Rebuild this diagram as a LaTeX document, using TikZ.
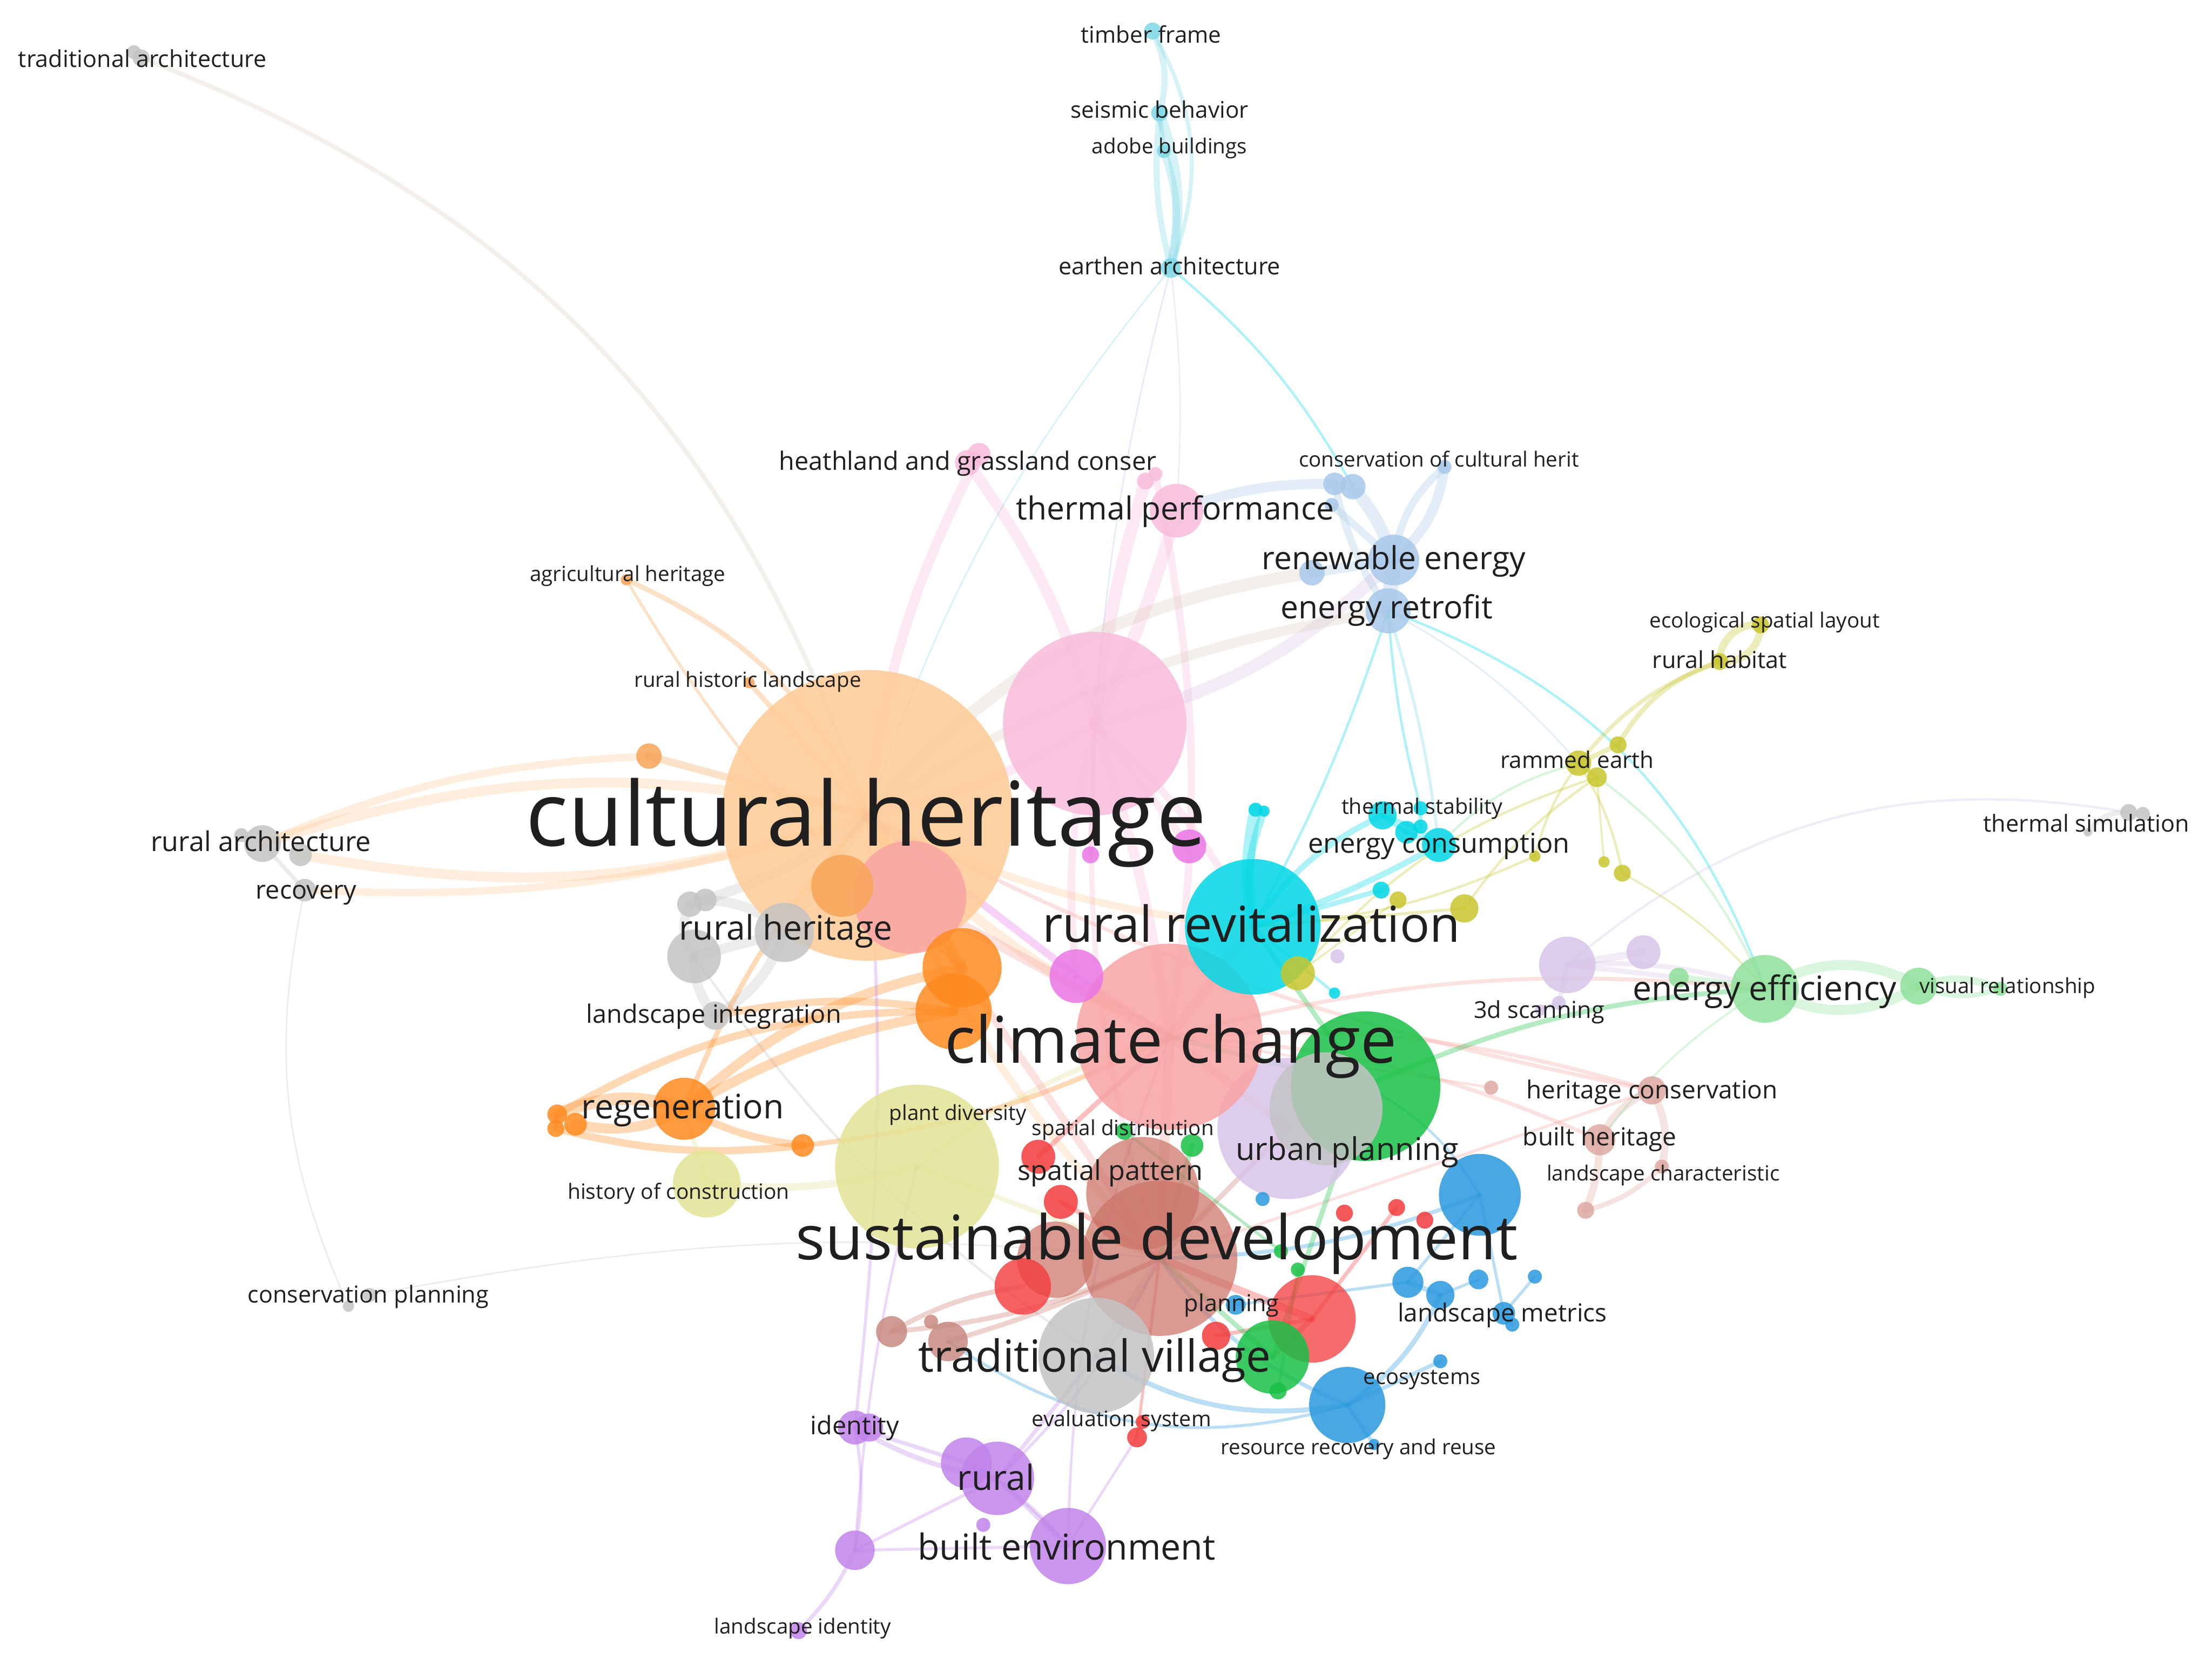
\documentclass[tikz,border=0pt]{standalone}
\usepackage{fontspec}
\setmainfont{Open Sans}
\usepackage{xcolor}
\definecolor{cPeach}{HTML}{FFCB96}
\definecolor{cOrangeL}{HTML}{F8A458}
\definecolor{cOrange}{HTML}{FF8A1F}
\definecolor{cGray}{HTML}{C4C4C4}
\definecolor{cLCyan}{HTML}{7FD8E6}
\definecolor{cPink}{HTML}{F9BCDB}
\definecolor{cLBlue}{HTML}{A9C8EA}
\definecolor{cYellow}{HTML}{C9C62E}
\definecolor{cCyan}{HTML}{00D7E6}
\definecolor{cGreen}{HTML}{19C147}
\definecolor{cLGreen}{HTML}{8FE09A}
\definecolor{cLav}{HTML}{D8C4E8}
\definecolor{cSalmon}{HTML}{F7A3A3}
\definecolor{cRose}{HTML}{DDA9A2}
\definecolor{cLYellow}{HTML}{E3E396}
\definecolor{cMagenta}{HTML}{EA76E6}
\definecolor{cBrown}{HTML}{CC7468}
\definecolor{cBrownL}{HTML}{C88A80}
\definecolor{cRed}{HTML}{F43B3B}
\definecolor{cBlue}{HTML}{2A99DF}
\definecolor{cPurple}{HTML}{C183EA}
\definecolor{cEdge}{HTML}{DCCFC2}
\pgfdeclarelayer{paper}
\pgfdeclarelayer{edges}
\pgfdeclarelayer{front}
\pgfsetlayers{paper,edges,main,front}

\begin{document}
\begin{tikzpicture}[
    x=0.01cm, y=-0.01cm,
    bub/.style={circle, inner sep=0pt, minimum size=#1*0.2mm, fill opacity=0.85},
    lbl/.style={font=\fontsize{#1}{#1}\selectfont, anchor=base, yshift=-#1*0.34pt, inner sep=0pt, text=black!88},
    lnk/.style={draw=#1, draw opacity=0.32, line width=0.5pt, line cap=round}
]

\begin{pgfonlayer}{paper}
\fill[white] (0,0) rectangle (1568,1176.5);
\end{pgfonlayer}
\useasboundingbox (0,0) rectangle (1568,1176.5);

% large bubbles
\node[bub=103, fill=cPeach] (culher) at (615,578) {};
\node[bub=65, fill=cPink] (pnk0) at (776,513) {};
\node[bub=50, fill=cLav] (urbplan) at (913,800) {};
\node[bub=53, fill=cGreen] (grn0) at (968,770) {};
\node[bub=40, fill=cGray] (gry7) at (940,786) {};
\node[bub=66, fill=cSalmon] (climch) at (829,735) {};
\node[bub=48, fill=cCyan] (rurrev) at (888,657) {};
\node[bub=58, fill=cLYellow] (plantdiv) at (650,827) {};
\node[bub=55, fill=cBrown, fill opacity=0.72] (susdev) at (822,892) {};
\node[bub=40, fill=cBrown, fill opacity=0.72] (brn1) at (810,846) {};
\node[bub=40, fill=cSalmon] (slm1) at (645,636) {};
\node[bub=41, fill=cGray] (tradvil) at (777,961) {};

% medium bubbles
\node[bub=27, fill=cBrown, fill opacity=0.72] (brn2) at (748,893) {};
\node[bub=31, fill=cRed, fill opacity=0.75] (red1) at (930,935) {};
\node[bub=29, fill=cBlue] (blu0) at (1049,847) {};
\node[bub=27, fill=cBlue] (blu1) at (955,996) {};
\node[bub=26, fill=cGreen] (grn1) at (902,962) {};
\node[bub=28, fill=cOrange] (org1) at (682,686) {};
\node[bub=27, fill=cOrange] (org2) at (676,717) {};
\node[bub=18, fill=cPurple] (pur2) at (685,1037) {};
\node[bub=26, fill=cPurple] (rural) at (707,1048) {};
\node[bub=27, fill=cPurple] (builtenv) at (757,1096) {};
\node[bub=24, fill=cLGreen] (eneff) at (1251,701) {};
\node[bub=24, fill=cLYellow] (histcon) at (501,839) {};
\node[bub=22, fill=cOrange] (regen) at (485,786) {};
\node[bub=22, fill=cOrangeL] (pch2) at (597,628) {};
\node[bub=21, fill=cGray] (rurher) at (556,661) {};
\node[bub=19, fill=cGray] (gry2) at (492,678) {};
\node[bub=20, fill=cRed, fill opacity=0.8] (red2) at (725,912) {};
\node[bub=20, fill=cLav] (lav0) at (1111,684) {};
\node[bub=19, fill=cMagenta] (mag1) at (763,692) {};
\node[bub=19, fill=cPink] (thperf) at (834,362) {};
\node[bub=18, fill=cLBlue] (renew) at (988,397) {};
\node[bub=16, fill=cLBlue] (enretro) at (984,433) {};

% small bubbles
\node[bub=6, fill=cLCyan] (timber) at (817,22) {};
\node[bub=6, fill=cLCyan] (seismic) at (822,80) {};
\node[bub=5, fill=cLCyan] (adobe) at (825,107) {};
\node[bub=7, fill=cLCyan] (earthen) at (830,190) {};
\node[bub=9, fill=cPink] (heath) at (686,328) {};
\node[bub=8, fill=cPink] (pnk3) at (694,322) {};
\node[bub=6, fill=cPink] (pnk1) at (812,341) {};
\node[bub=5, fill=cPink] (pnk2) at (819,336) {};
\node[bub=8, fill=cLBlue] (lbl1) at (946,343) {};
\node[bub=9, fill=cLBlue] (lbl2) at (959,345) {};
\node[bub=5, fill=cLBlue] (conscul) at (1024,331) {};
\node[bub=5, fill=cLBlue] (lbl3) at (944,358) {};
\node[bub=9, fill=cLBlue] (lbl4) at (930,406) {};
\node[bub=4, fill=cOrangeL] (agrher) at (444,411) {};
\node[bub=4, fill=cOrangeL] (rurhis) at (531,484) {};
\node[bub=9, fill=cOrangeL] (pch1) at (460,536) {};
\node[bub=6, fill=cYellow] (ecospa) at (1248,443) {};
\node[bub=6, fill=cYellow] (rurhab) at (1219,469) {};
\node[bub=6, fill=cYellow] (ylw1) at (1147,528) {};
\node[bub=9, fill=cYellow] (rammed) at (1119,541) {};
\node[bub=7, fill=cYellow] (ylw2) at (1132,551) {};
\node[bub=4, fill=cYellow] (ylw3) at (1088,607) {};
\node[bub=4, fill=cYellow] (ylw4) at (1137,611) {};
\node[bub=6, fill=cYellow] (ylw5) at (1150,619) {};
\node[bub=10, fill=cYellow] (ylw6) at (1038,644) {};
\node[bub=6, fill=cYellow] (ylw7) at (991,638) {};
\node[bub=12, fill=cYellow] (ylw8) at (920,690) {};
\node[bub=10, fill=cCyan] (cyn0) at (980,578) {};
\node[bub=5, fill=cCyan] (thstab) at (1007,573) {};
\node[bub=8, fill=cCyan] (cyn2) at (997,590) {};
\node[bub=5, fill=cCyan] (cyn3) at (1007,586) {};
\node[bub=12, fill=cCyan] (encons) at (1020,599) {};
\node[bub=5, fill=cCyan] (cyn4) at (890,574) {};
\node[bub=4, fill=cCyan] (cyn5) at (896,575) {};
\node[bub=6, fill=cCyan] (cyn6) at (979,631) {};
\node[bub=4, fill=cCyan] (cyn7) at (946,704) {};
\node[bub=6, fill=cGray] (tradarch) at (100,41) {};
\node[bub=5, fill=cGray] (gry0) at (95,37) {};
\node[bub=13, fill=cGray] (rurarch) at (186,598) {};
\node[bub=5, fill=cGray] (gry9) at (171,592) {};
\node[bub=8, fill=cGray] (recov) at (216,631) {};
\node[bub=8, fill=cGray] (gry1) at (213,606) {};
\node[bub=9, fill=cGray] (gry3) at (489,641) {};
\node[bub=8, fill=cGray] (gry4) at (500,638) {};
\node[bub=10, fill=cGray] (landint) at (507,720) {};
\node[bub=5, fill=cGray] (consplan) at (262,918) {};
\node[bub=4, fill=cGray] (gry5) at (247,926) {};
\node[bub=6, fill=cGray] (gry6) at (1509,576) {};
\node[bub=5, fill=cGray] (gry8) at (1519,577) {};
\node[bub=3, fill=cGray] (thsim) at (1480,590) {};
\node[bub=7, fill=cLGreen] (lgr1) at (1190,693) {};
\node[bub=13, fill=cLGreen] (lgr2) at (1360,699) {};
\node[bub=5, fill=cLGreen] (visrel) at (1418,701) {};
\node[bub=12, fill=cLav] (lav1) at (1165,675) {};
\node[bub=5, fill=cLav] (lav2) at (1105,711) {};
\node[bub=4, fill=cLav] (scan3d) at (1092,716) {};
\node[bub=5, fill=cLav] (lav3) at (948,678) {};
\node[bub=10, fill=cRose] (hercons) at (1171,773) {};
\node[bub=11, fill=cRose] (builther) at (1134,808) {};
\node[bub=5, fill=cRose] (landchar) at (1178,827) {};
\node[bub=6, fill=cRose] (rse1) at (1124,858) {};
\node[bub=5, fill=cRose] (rse2) at (1057,771) {};
\node[bub=7, fill=cOrange] (org3) at (395,790) {};
\node[bub=8, fill=cOrange] (org4) at (408,797) {};
\node[bub=6, fill=cOrange] (org5) at (394,800) {};
\node[bub=8, fill=cOrange] (org6) at (569,812) {};
\node[bub=12, fill=cMagenta] (mag2) at (843,600) {};
\node[bub=6, fill=cMagenta] (mag3) at (773,606) {};
\node[bub=8, fill=cGreen] (grn2) at (845,812) {};
\node[bub=6, fill=cGreen] (grn3) at (797,802) {};
\node[bub=5, fill=cGreen] (grn4) at (908,887) {};
\node[bub=5, fill=cGreen] (grn5) at (920,900) {};
\node[bub=6, fill=cGreen] (grn6) at (906,986) {};
\node[bub=12, fill=cRed] (red4) at (736,820) {};
\node[bub=12, fill=cRed] (spatpat) at (752,852) {};
\node[bub=10, fill=cRed] (red3) at (862,947) {};
\node[bub=7, fill=cRed] (evalsys) at (806,1019) {};
\node[bub=5, fill=cRed] (red5) at (810,1008) {};
\node[bub=6, fill=cRed] (red6) at (990,856) {};
\node[bub=6, fill=cRed] (red7) at (1010,865) {};
\node[bub=6, fill=cRed] (red8) at (953,860) {};
\node[bub=11, fill=cBlue] (blu2) at (998,909) {};
\node[bub=10, fill=cBlue] (blu3) at (1021,918) {};
\node[bub=7, fill=cBlue] (blu4) at (1048,907) {};
\node[bub=8, fill=cBlue] (landmet) at (1066,931) {};
\node[bub=5, fill=cBlue] (blu5) at (1088,905) {};
\node[bub=5, fill=cBlue] (blu6) at (1072,939) {};
\node[bub=5, fill=cBlue] (ecosys) at (1021,965) {};
\node[bub=4, fill=cBlue] (resrec) at (974,1024) {};
\node[bub=7, fill=cBlue] (planning) at (876,925) {};
\node[bub=5, fill=cBlue] (blu7) at (895,850) {};
\node[bub=11, fill=cBrownL] (brw1) at (632,944) {};
\node[bub=14, fill=cBrownL] (brw2) at (672,951) {};
\node[bub=5, fill=cBrownL] (brw3) at (660,937) {};
\node[bub=12, fill=cPurple] (identity) at (606,1012) {};
\node[bub=10, fill=cPurple] (pur1) at (616,1012) {};
\node[bub=5, fill=cPurple] (pur3) at (697,1081) {};
\node[bub=14, fill=cPurple] (pur5) at (606,1099) {};
\node[bub=6, fill=cPurple] (landid) at (566,1156) {};

\begin{pgfonlayer}{edges}
% top
\draw[lnk=cLCyan, line width=1.2pt] (timber.center) to[bend left=20] (seismic.center);
\draw[lnk=cLCyan, line width=0.8pt] (timber.center) to[bend left=25] (earthen.center);
\draw[lnk=cLCyan, line width=2pt] (seismic.center) to[bend left=15] (earthen.center);
\draw[lnk=cLCyan, line width=1.2pt] (seismic.center) to[bend right=10] (earthen.center);
\draw[lnk=cLCyan, line width=1.5pt] (adobe.center) to[bend left=15] (earthen.center);
\draw[lnk=cLCyan, line width=1pt] (seismic.center) -- (adobe.center);
\draw[lnk=cCyan] (earthen.center) to[bend left=10] (lbl2.center);
\draw[lnk=cLCyan, line width=0.3pt] (earthen.center) to[bend right=10] (culher.center);
\draw[lnk=cLav, line width=0.3pt] (earthen.center) to[bend left=5] (thperf.center);
\draw[lnk=cLBlue, line width=0.3pt] (earthen.center) to[bend right=5] (pnk0.center);
% pink and light blue
\draw[lnk=cPink, line width=2.2pt] (heath.center) to[bend left=10] (pnk0.center);
\draw[lnk=cPink, line width=2pt] (pnk3.center) to[bend right=10] (culher.center);
\draw[lnk=cPink, line width=2.5pt] (pnk1.center) to[bend right=5] (pnk0.center);
\draw[lnk=cPink, line width=2.5pt] (thperf.center) to[bend left=5] (pnk0.center);
\draw[lnk=cPink, line width=1.5pt] (pnk2.center) to[bend left=10] (climch.center);
\draw[lnk=cLBlue, line width=2pt] (thperf.center) to[bend left=10] (lbl1.center);
\draw[lnk=cLav, line width=2.5pt] (pnk0.center) to[bend right=15] (renew.center);
\draw[lnk=cEdge, line width=2.5pt] (culher.center) to[bend left=20] (lbl4.center);
\draw[lnk=cEdge, line width=2pt] (culher.center) to[bend left=12] (enretro.center);
\draw[lnk=cPink, line width=1.5pt] (pnk0.center) to[bend left=10] (rurrev.center);
\draw[lnk=cPink, line width=2pt] (pnk0.center) to[bend left=5] (climch.center);
\draw[lnk=cPink, line width=1.5pt] (pnk0.center) to[bend right=10] (mag1.center);
\draw[lnk=cPink, line width=1pt] (pnk0.center) to[bend right=10] (susdev.center);
\draw[lnk=cPink, line width=2pt] (pnk0.center) to[bend left=10] (culher.center);
\draw[lnk=cLBlue, line width=2pt] (conscul.center) to[bend left=20] (renew.center);
\draw[lnk=cLBlue, line width=1.5pt] (conscul.center) to[bend right=20] (renew.center);
\draw[lnk=cLBlue, line width=2.5pt] (lbl2.center) to[bend left=10] (renew.center);
\draw[lnk=cLBlue, line width=1.5pt] (lbl1.center) to[bend right=10] (enretro.center);
\draw[lnk=cLBlue, line width=1.5pt] (lbl3.center) -- (renew.center);
\draw[lnk=cLBlue, line width=3pt] (renew.center) -- (enretro.center);
\draw[lnk=cLBlue, line width=2pt] (lbl4.center) -- (renew.center);
\draw[lnk=cCyan] (enretro.center) to[bend left=5] (rurrev.center);
\draw[lnk=cLCyan, line width=0.6pt] (enretro.center) to[bend left=5] (encons.center);
\draw[lnk=cCyan] (enretro.center) to[bend left=25] (eneff.center);
\draw[lnk=cLBlue, line width=0.3pt] (enretro.center) to[bend left=10] (rammed.center);
\draw[lnk=cCyan] (enretro.center) to[bend right=5] (thstab.center);
% yellow
\draw[lnk=cYellow, line width=1.5pt] (ecospa.center) to[bend right=50] (rurhab.center);
\draw[lnk=cYellow, line width=1.5pt] (ecospa.center) to[bend left=50] (rurhab.center);
\draw[lnk=cYellow, line width=1pt] (rurhab.center) to[bend right=20] (ylw1.center);
\draw[lnk=cYellow, line width=0.8pt] (rurhab.center) to[bend right=15] (rammed.center);
\draw[lnk=cYellow, line width=1pt] (ylw1.center) -- (rammed.center);
\draw[lnk=cYellow, line width=1pt] (rammed.center) -- (ylw2.center);
\draw[lnk=cYellow] (rammed.center) to[bend right=10] (ylw3.center);
\draw[lnk=cYellow] (rammed.center) to[bend left=10] (ylw5.center);
\draw[lnk=cYellow, line width=0.4pt] (ylw2.center) -- (ylw4.center);
\draw[lnk=cLGreen] (rammed.center) to[bend right=15] (encons.center);
\draw[lnk=cLGreen] (rammed.center) to[bend left=15] (eneff.center);
\draw[lnk=cYellow] (ylw2.center) to[bend right=10] (ylw6.center);
\draw[lnk=cYellow] (ylw2.center) to[bend right=15] (ylw8.center);
\draw[lnk=cYellow] (ylw3.center) to[bend left=10] (rurrev.center);
\draw[lnk=cYellow, line width=0.6pt] (ylw6.center) -- (rurrev.center);
\draw[lnk=cYellow, line width=0.4pt] (ylw5.center) to[bend left=10] (eneff.center);
\draw[lnk=cYellow, line width=0.4pt] (ylw7.center) -- (ylw8.center);
% cyan
\draw[lnk=cCyan, line width=2.5pt] (rurrev.center) to[bend left=10] (cyn4.center);
\draw[lnk=cCyan, line width=1.5pt] (rurrev.center) to[bend left=15] (cyn5.center);
\draw[lnk=cCyan, line width=1.2pt] (rurrev.center) to[bend left=15] (cyn0.center);
\draw[lnk=cCyan, line width=1.2pt] (rurrev.center) to[bend right=5] (encons.center);
\draw[lnk=cCyan, line width=1pt] (rurrev.center) -- (cyn6.center);
\draw[lnk=cCyan, line width=1pt] (cyn0.center) -- (cyn2.center);
\draw[lnk=cCyan, line width=1pt] (cyn2.center) -- (encons.center);
\draw[lnk=cCyan, line width=0.8pt] (thstab.center) -- (cyn3.center);
\draw[lnk=cCyan, line width=0.8pt] (cyn0.center) to[bend left=10] (encons.center);
\draw[lnk=cCyan, line width=0.6pt] (rurrev.center) -- (cyn7.center);
% left
\draw[lnk=cEdge, line width=0.9pt] (tradarch.center) to[bend left=25] (culher.center);
\draw[lnk=cPeach, line width=2pt] (rurarch.center) to[bend left=15] (culher.center);
\draw[lnk=cPeach, line width=2pt] (gry1.center) to[bend right=14] (culher.center);
\draw[lnk=cPeach, line width=1.5pt] (rurarch.center) to[bend left=10] (pch1.center);
\draw[lnk=cPeach, line width=1.5pt] (recov.center) to[bend right=10] (culher.center);
\draw[lnk=cGray, line width=0.8pt] (rurarch.center) -- (recov.center);
\draw[lnk=cGray, line width=0.3pt] (consplan.center) to[bend left=8] (susdev.center);
\draw[lnk=cGray, line width=0.3pt] (gry5.center) to[bend left=18] (recov.center);
\draw[lnk=cOrangeL, line width=1pt] (agrher.center) to[bend left=20] (culher.center);
\draw[lnk=cOrangeL, line width=0.6pt] (agrher.center) to[bend right=10] (org1.center);
\draw[lnk=cOrangeL, line width=1pt] (rurhis.center) -- (culher.center);
\draw[lnk=cOrangeL, line width=1.5pt] (pch1.center) -- (culher.center);
\draw[lnk=cPeach, line width=1.5pt] (culher.center) to[bend right=10] (rurrev.center);
\draw[lnk=cPeach, line width=2pt] (culher.center) to[bend right=10] (climch.center);
\draw[lnk=cPeach, line width=1.5pt] (culher.center) to[bend right=10] (susdev.center);
\draw[lnk=cSalmon, line width=0.8pt] (culher.center) to[bend right=8] (hercons.center);
\draw[lnk=cGray, line width=2pt] (gry3.center) to[bend right=30] (gry2.center);
\draw[lnk=cGray, line width=2pt] (gry4.center) to[bend left=20] (rurher.center);
\draw[lnk=cGray, line width=2pt] (gry2.center) -- (rurher.center);
\draw[lnk=cGray, line width=2pt] (gry2.center) to[bend right=20] (landint.center);
\draw[lnk=cGray, line width=2pt] (rurher.center) to[bend left=20] (landint.center);
\draw[lnk=cGray, line width=2pt] (gry3.center) to[bend right=10] (culher.center);
\draw[lnk=cGray, line width=2pt] (rurher.center) -- (culher.center);
\draw[lnk=cGray, line width=0.5pt] (gry2.center) to[bend right=10] (tradvil.center);
% orange
\draw[lnk=cOrange, line width=2.5pt] (regen.center) to[bend right=20] (org3.center);
\draw[lnk=cOrange, line width=2pt] (regen.center) to[bend left=20] (org4.center);
\draw[lnk=cOrange, line width=1pt] (org3.center) -- (org5.center);
\draw[lnk=cOrange, line width=1.5pt] (org5.center) to[bend right=10] (org6.center);
\draw[lnk=cOrange, line width=2pt] (regen.center) to[bend left=15] (org1.center);
\draw[lnk=cOrange, line width=2pt] (regen.center) to[bend left=10] (org2.center);
\draw[lnk=cOrange, line width=1.5pt] (regen.center) to[bend right=10] (org6.center);
\draw[lnk=cOrange, line width=1pt] (regen.center) to[bend left=10] (culher.center);
\draw[lnk=cOrange, line width=1.5pt] (org3.center) to[bend left=15] (org2.center);
\draw[lnk=cOrange, line width=1pt] (org6.center) to[bend right=10] (climch.center);
\draw[lnk=cOrange, line width=2pt] (org1.center) -- (culher.center);
\draw[lnk=cOrange, line width=2pt] (org1.center) -- (org2.center);
\draw[lnk=cOrange, line width=1.5pt] (landint.center) to[bend left=10] (org2.center);
\draw[lnk=cLYellow, line width=1.5pt] (histcon.center) to[bend right=10] (plantdiv.center);
\draw[lnk=cLYellow, line width=1pt] (histcon.center) -- (regen.center);
\draw[lnk=cLYellow, line width=1pt] (plantdiv.center) to[bend left=10] (climch.center);
\draw[lnk=cLYellow, line width=1pt] (plantdiv.center) -- (susdev.center);
% right
\draw[lnk=cLGreen, line width=2pt] (eneff.center) to[bend left=30] (lgr2.center);
\draw[lnk=cLGreen, line width=2pt] (eneff.center) to[bend right=30] (lgr2.center);
\draw[lnk=cLGreen, line width=1.5pt] (lgr2.center) to[bend left=20] (visrel.center);
\draw[lnk=cLGreen, line width=1pt] (lgr2.center) to[bend right=20] (visrel.center);
\draw[lnk=cLGreen, line width=1.5pt] (eneff.center) -- (lgr1.center);
\draw[lnk=cLav, line width=1pt] (lgr1.center) -- (lav0.center);
\draw[lnk=cLav, line width=1.5pt] (lav0.center) -- (lav1.center);
\draw[lnk=cLav, line width=1pt] (lav0.center) -- (lav2.center);
\draw[lnk=cLav, line width=1pt] (lav2.center) -- (scan3d.center);
\draw[lnk=cLav, line width=1pt] (lav0.center) to[bend left=10] (eneff.center);
\draw[lnk=cLav, line width=0.5pt] (gry6.center) to[bend right=25] (lav0.center);
\draw[lnk=cGray, line width=1pt] (thsim.center) to[bend left=30] (gry6.center);
\draw[lnk=cRose, line width=1.5pt] (hercons.center) to[bend right=20] (builther.center);
\draw[lnk=cRose, line width=1.5pt] (hercons.center) to[bend left=20] (landchar.center);
\draw[lnk=cRose, line width=1.5pt] (builther.center) to[bend left=10] (rse1.center);
\draw[lnk=cRose, line width=1pt] (landchar.center) to[bend left=15] (rse1.center);
\draw[lnk=cSalmon, line width=0.8pt] (hercons.center) to[bend right=10] (climch.center);
\draw[lnk=cSalmon, line width=0.8pt] (builther.center) to[bend right=10] (climch.center);
\draw[lnk=cSalmon, line width=0.6pt] (hercons.center) -- (susdev.center);
\draw[lnk=cLGreen, line width=0.4pt] (builther.center) to[bend left=10] (eneff.center);
\draw[lnk=cSalmon, line width=0.5pt] (rse2.center) -- (climch.center);
% bottom
\draw[lnk=cBlue, line width=0.8pt] (blu0.center) to[bend left=10] (susdev.center);
\draw[lnk=cBlue, line width=0.6pt] (blu0.center) -- (blu2.center);
\draw[lnk=cBlue, line width=0.6pt] (blu0.center) -- (landmet.center);
\draw[lnk=cBlue, line width=0.8pt] (blu1.center) to[bend left=15] (susdev.center);
\draw[lnk=cBlue, line width=1pt] (blu1.center) to[bend right=15] (blu3.center);
\draw[lnk=cBlue, line width=0.8pt] (blu1.center) -- (ecosys.center);
\draw[lnk=cBlue, line width=0.8pt] (blu1.center) -- (resrec.center);
\draw[lnk=cBlue, line width=1pt] (blu1.center) to[bend left=20] (tradvil.center);
\draw[lnk=cBlue, line width=1pt] (blu2.center) -- (blu3.center);
\draw[lnk=cBlue, line width=0.6pt] (blu3.center) -- (blu4.center);
\draw[lnk=cBlue, line width=0.6pt] (landmet.center) -- (blu5.center);
\draw[lnk=cBlue, line width=0.6pt] (landmet.center) to[bend left=15] (blu6.center);
\draw[lnk=cBlue, line width=0.6pt] (planning.center) -- (blu2.center);
\draw[lnk=cBlue, line width=0.5pt] (blu0.center) to[bend right=15] (grn0.center);
\draw[lnk=cBlue, line width=0.6pt] (blu1.center) to[bend left=25] (brw2.center);
\draw[lnk=cBrown, line width=1pt] (susdev.center) to[bend left=10] (brw1.center);
\draw[lnk=cBrown, line width=1pt] (susdev.center) to[bend left=5] (brw2.center);
\draw[lnk=cBrown, line width=1pt] (red2.center) to[bend right=10] (brw1.center);
\draw[lnk=cRed, line width=1.5pt] (susdev.center) -- (red1.center);
\draw[lnk=cRed, line width=0.6pt] (susdev.center) -- (evalsys.center);
\draw[lnk=cRed, line width=1pt] (red1.center) -- (grn1.center);
\draw[lnk=cSalmon, line width=2pt] (susdev.center) -- (climch.center);
\draw[lnk=cGray, line width=1.5pt] (susdev.center) -- (tradvil.center);
\draw[lnk=cBrown, line width=1pt] (susdev.center) -- (urbplan.center);
\draw[lnk=cRed, line width=1pt] (spatpat.center) -- (susdev.center);
\draw[lnk=cRed, line width=1pt] (red4.center) -- (climch.center);
\draw[lnk=cRed, line width=0.8pt] (red3.center) -- (red1.center);
\draw[lnk=cRed, line width=0.8pt] (red6.center) -- (red1.center);
\draw[lnk=cPurple, line width=1pt] (identity.center) to[bend right=10] (rural.center);
\draw[lnk=cPurple, line width=0.8pt] (identity.center) -- (pur2.center);
\draw[lnk=cPurple, line width=0.6pt] (identity.center) to[bend left=10] (pur5.center);
\draw[lnk=cPurple, line width=0.8pt] (pur5.center) to[bend left=10] (landid.center);
\draw[lnk=cPurple, line width=0.6pt] (pur5.center) -- (rural.center);
\draw[lnk=cPurple, line width=0.6pt] (pur5.center) -- (builtenv.center);
\draw[lnk=cPurple, line width=1pt] (rural.center) -- (builtenv.center);
\draw[lnk=cPurple, line width=0.8pt] (pur2.center) to[bend left=10] (builtenv.center);
\draw[lnk=cPurple, line width=0.6pt] (identity.center) to[bend right=5] (culher.center);
\draw[lnk=cPurple, line width=0.5pt] (pur5.center) to[bend left=5] (plantdiv.center);
\draw[lnk=cPurple, line width=0.8pt] (rural.center) -- (tradvil.center);
\draw[lnk=cPurple, line width=0.6pt] (rural.center) to[bend right=10] (susdev.center);
\draw[lnk=cPurple, line width=0.5pt] (builtenv.center) -- (evalsys.center);
\draw[lnk=cPurple, line width=0.5pt] (builtenv.center) to[bend left=10] (climch.center);
\draw[lnk=cGreen, line width=1pt] (grn0.center) -- (climch.center);
\draw[lnk=cGreen, line width=1pt] (grn0.center) to[bend left=10] (eneff.center);
\draw[lnk=cGreen, line width=1pt] (grn0.center) -- (rurrev.center);
\draw[lnk=cGreen, line width=1pt] (grn1.center) -- (susdev.center);
\draw[lnk=cGreen, line width=1pt] (grn0.center) -- (grn1.center);
\draw[lnk=cGreen, line width=1pt] (grn2.center) -- (susdev.center);
\draw[lnk=cGreen, line width=0.6pt] (grn3.center) -- (grn4.center);
\draw[lnk=cGreen, line width=0.6pt] (grn5.center) -- (grn6.center);
\draw[lnk=cMagenta, line width=1.5pt] (mag1.center) -- (culher.center);
\draw[lnk=cMagenta, line width=1pt] (mag1.center) -- (climch.center);
\draw[lnk=cPink, line width=1.5pt] (mag2.center) -- (pnk0.center);
\draw[lnk=cPink, line width=1pt] (mag3.center) -- (pnk0.center);
\draw[lnk=cSalmon, line width=2pt] (slm1.center) -- (climch.center);
\draw[lnk=cSalmon, line width=1.5pt] (slm1.center) -- (susdev.center);
\draw[lnk=cSalmon, line width=2pt] (climch.center) -- (rurrev.center);
\draw[lnk=cSalmon, line width=1.5pt] (climch.center) -- (urbplan.center);
\draw[lnk=cSalmon, line width=0.8pt] (climch.center) to[bend left=10] (eneff.center);
\end{pgfonlayer}

\begin{pgfonlayer}{front}
\node[lbl=18] (culher-t) at (614,578) {cultural heritage};
\node[lbl=13] (climch-t) at (830,738) {climate change};
\node[lbl=12.4] (susdev-t) at (820,878) {sustainable development};
\node[lbl=10] (rurrev-t) at (887,656) {rural revitalization};
\node[lbl=8.9] (tradvil-t) at (776,962) {traditional village};
\node[lbl=7.2] (builtenv-t) at (756,1097) {built environment};
\node[lbl=7] (rural-t) at (706,1048) {rural};
\node[lbl=6.8] (rurher-t) at (557,658) {rural heritage};
\node[lbl=6.8] (eneff-t) at (1251,701) {energy efficiency};
\node[lbl=6.8] (regen-t) at (484,785) {regeneration};
\node[lbl=6.3] (urbplan-t) at (955,815) {urban planning};
\node[lbl=6.4] (renew-t) at (988,396) {renewable energy};
\node[lbl=6.4] (enretro-t) at (983,431) {energy retrofit};
\node[lbl=6.4] (thperf-t) at (833,361) {thermal performance};
\node[lbl=5.5] (spatpat-t) at (787,830) {spatial pattern};
\node[lbl=5.5] (encons-t) at (1020,598) {energy consumption};
\node[lbl=5.5] (rurarch-t) at (185,597) {rural architecture};
\node[lbl=5.1] (landint-t) at (506,719) {landscape integration};
\node[lbl=5.1] (heath-t) at (686,327) {heathland and grassland conser};
\node[lbl=5.1] (recov-t) at (217,631) {recovery};
\node[lbl=5.1] (identity-t) at (606,1011) {identity};
\node[lbl=5] (landmet-t) at (1065,931) {landscape metrics};
\node[lbl=5] (hercons-t) at (1171,773) {heritage conservation};
\node[lbl=5] (builther-t) at (1134,806) {built heritage};
\node[lbl=4.7] (planning-t) at (873,924) {planning};
\node[lbl=4.6] (rammed-t) at (1118,539) {rammed earth};
\node[lbl=4.7] (rurhab-t) at (1219,468) {rural habitat};
\node[lbl=4.7] (earthen-t) at (829,189) {earthen architecture};
\node[lbl=4.6] (seismic-t) at (822,78) {seismic behavior};
\node[lbl=4.6] (timber-t) at (816,25) {timber frame};
\node[lbl=4.7] (tradarch-t) at (101,42) {traditional architecture};
\node[lbl=4.7] (scan3d-t) at (1091,716) {3d scanning};
\node[lbl=4.7] (thsim-t) at (1479,584) {thermal simulation};
\node[lbl=4.7] (consplan-t) at (261,918) {conservation planning};
\node[lbl=4.35] (ecosys-t) at (1008,976) {ecosystems};
\node[lbl=4.3] (thstab-t) at (1008,572) {thermal stability};
\node[lbl=4.3] (evalsys-t) at (795,1006) {evaluation system};
\node[lbl=4.25] (histcon-t) at (481,845) {history of construction};
\node[lbl=4.2] (visrel-t) at (1423,699) {visual relationship};
\node[lbl=4.2] (agrher-t) at (445,407) {agricultural heritage};
\node[lbl=4.2] (rurhis-t) at (530,482) {rural historic landscape};
\node[lbl=4.2] (conscul-t) at (1020,326) {conservation of cultural herit};
\node[lbl=4.2] (ecospa-t) at (1251,440) {ecological spatial layout};
\node[lbl=4.2] (adobe-t) at (829,104) {adobe buildings};
\node[lbl=4.2] (plantdiv-t) at (679,789) {plant diversity};
\node[lbl=4.2] (spatdis-t) at (796,800) {spatial distribution};
\node[lbl=4.2] (landchar-t) at (1179,832) {landscape characteristic};
\node[lbl=4.2] (resrec-t) at (963,1026) {resource recovery and reuse};
\node[lbl=4.2] (landid-t) at (569,1153) {landscape identity};
\end{pgfonlayer}

\end{tikzpicture}
\end{document}
